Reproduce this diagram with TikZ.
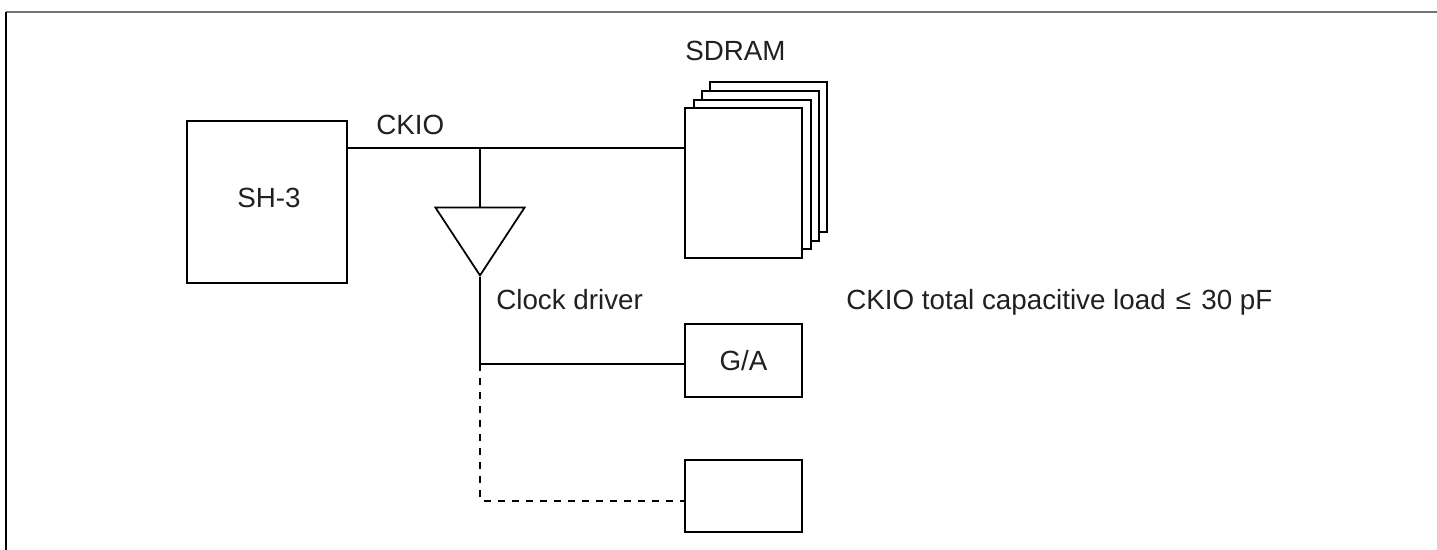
\documentclass[tikz,border=0pt]{standalone}
\usepackage{fontspec}
\setmainfont{Liberation Sans}
\usetikzlibrary{shapes.geometric}
\definecolor{inkblack}{RGB}{35,31,32}
\tikzset{
    chip/.style={rectangle, draw=black, fill=white, line width=0.04cm, inner sep=0pt},
    wire/.style={draw=black, line width=0.04cm},
    sheet/.style={chip, minimum width=2.34cm, minimum height=3cm},
    caption/.style={anchor=base west, inner sep=0pt}
}
\begin{document}
\begin{tikzpicture}[x=0.02cm, y=-0.02cm, every node/.style={font=\fontsize{15.8pt}{19pt}\selectfont, text=inkblack}]
    \useasboundingbox (0,0) rectangle (1437,550);

    % frame, open on the right and at the bottom
    \coordinate (framecorner) at (6,11.7);
    \coordinate (frameright) at (1437,11.7);
    \coordinate (framebottom) at (6,550);
    \draw[black!55, line width=0.04cm] (framecorner) -- (frameright);
    \draw[wire] (framecorner) -- (framebottom);

    \node[chip, minimum width=3.2cm, minimum height=3.24cm] (sh3) at (267,202) {};

    \node[sheet] (sdramd) at (768.5,157) {};
    \node[sheet] (sdramc) at (760.5,166) {};
    \node[sheet] (sdramb) at (752.5,174.5) {};
    \node[sheet] (sdrama) at (743.5,183) {};

    \node[chip, minimum width=2.34cm, minimum height=1.46cm] (ga) at (743.5,360.5) {G/A};
    \node[chip, minimum width=2.34cm, minimum height=1.44cm] (spare) at (743.5,496) {};

    \node[isosceles triangle, isosceles triangle apex angle=66.6, shape border rotate=270,
          draw=black, line width=0.035cm, inner sep=0pt, minimum height=1.36cm,
          anchor=apex] (driver) at (480,277) {};

    \coordinate (ckiotap) at (480,148.5);
    \coordinate (gabranch) at (480,364.5);
    \coordinate (sparebend) at (480,500.5);

    \draw[wire] (sh3.east |- ckiotap) -- (ckiotap) -- (ckiotap -| sdrama.west);
    \draw[wire] (ckiotap) -- (driver.lower side);
    \draw[wire] (driver.apex) -- (gabranch) -- (gabranch -| ga.west);
    \draw[wire, dash pattern=on 0.14cm off 0.14cm] (gabranch) -- (sparebend) -- (sparebend -| spare.west);

    \node[caption] (sh3label) at (237,208) {SH-3};
    \node[caption] (ckiolabel) at (376,135) {CKIO};
    \node[caption] (sdramlabel) at (685,61) {SDRAM};
    \node[caption] (driverlabel) at (496,310) {Clock driver};
    \node[caption] (loadlabel) at (846,310) {CKIO total capacitive load\hspace{0.05cm} ≤\hspace{0.05cm} 30 pF};
\end{tikzpicture}
\end{document}
